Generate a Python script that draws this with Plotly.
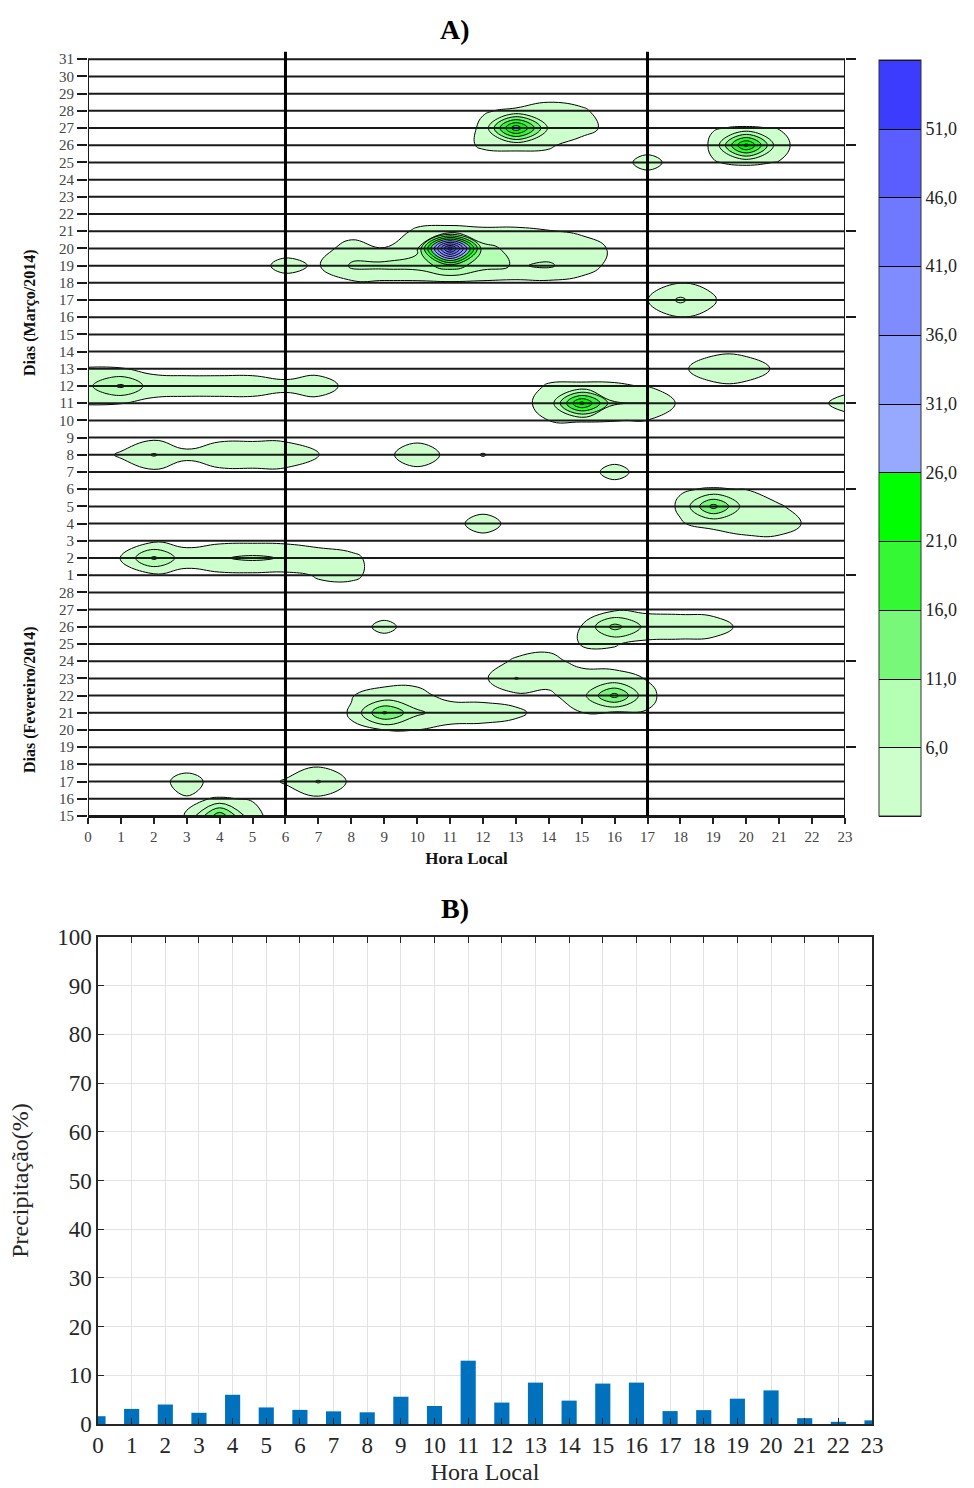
import numpy as np
import plotly.graph_objects as go

# ---------------- data ----------------
hours = list(range(24))
feb_days = list(range(15, 29))
mar_days = list(range(1, 32))
day_labels = [str(d) for d in feb_days] + [str(d) for d in mar_days]

# hourly precipitation (day, hour, value)
feb_cells = [
    (15, 3, 1.1), (15, 4, 20.0), (15, 5, 1.5),
    (16, 3, 0.8), (16, 4, 1.1), (16, 5, 0.9),
    (17, 3, 2.0), (17, 6, 1.2), (17, 7, 6.5),
    (20, 8, 0.8), (20, 9, 0.95), (20, 10, 0.95),
    (21, 8, 1.15), (21, 9, 17.0), (21, 10, 7.0), (21, 11, 3.0), (21, 12, 2.5), (21, 13, 1.5),
    (21, 15, 0.9), (21, 17, 0.9),
    (22, 8, 0.9), (22, 9, 2.0), (22, 10, 2.0), (22, 15, 4.0), (22, 16, 18.0), (22, 17, 1.4),
    (23, 13, 6.3), (23, 14, 3.0), (23, 15, 2.5), (23, 16, 2.0), (23, 17, 0.9),
    (24, 13, 1.3), (24, 14, 2.0),
    (25, 15, 1.1), (25, 16, 1.2),
    (26, 9, 1.6), (26, 15, 1.05), (26, 16, 13.0), (26, 17, 4.2), (26, 18, 3.5), (26, 19, 2.5),
]
mar_cells = [
    (1, 7, 1.3), (1, 8, 1.5),
    (2, 1, 1.1), (2, 2, 12.0), (2, 3, 2.5), (2, 4, 5.5), (2, 5, 7.0), (2, 6, 5.5), (2, 7, 2.5), (2, 8, 1.5),
    (4, 12, 2.2), (4, 18, 0.9), (4, 19, 1.5), (4, 20, 3.0), (4, 21, 3.0),
    (5, 18, 1.2), (5, 19, 18.0), (5, 20, 3.0), (5, 21, 1.2),
    (6, 18, 0.9), (6, 19, 1.1), (6, 20, 0.95),
    (7, 16, 1.8),
    (8, 1, 1.25), (8, 2, 6.5), (8, 3, 1.5), (8, 4, 4.0), (8, 5, 4.5), (8, 6, 4.0), (8, 7, 1.1),
    (8, 10, 3.2), (8, 12, 1.1),
    (10, 14, 1.0), (10, 15, 1.1), (10, 16, 1.05), (10, 17, 0.9),
    (11, 0, 1.1), (11, 1, 1.05), (11, 14, 2.0), (11, 15, 28.0), (11, 16, 6.5), (11, 17, 6.3), (11, 23, 2.0),
    (12, 0, 5.0), (12, 1, 12.0), (12, 2, 3.0), (12, 3, 2.5), (12, 4, 2.5), (12, 5, 2.5), (12, 6, 1.6),
    (12, 7, 2.5), (12, 14, 1.2), (12, 15, 1.3), (12, 16, 1.25), (12, 17, 0.9),
    (13, 0, 1.1), (13, 1, 1.1), (13, 19, 4.0), (13, 20, 3.5),
    (16, 17, 0.8), (16, 18, 0.9), (16, 19, 0.8),
    (17, 17, 0.9), (17, 18, 7.0), (17, 19, 1.1),
    (18, 17, 0.8), (18, 18, 0.9), (18, 19, 0.8),
    (19, 6, 1.8), (19, 7, 0.6), (19, 8, 7.0), (19, 9, 7.5), (19, 10, 8.0), (19, 11, 14.0), (19, 12, 8.0),
    (19, 13, 5.5), (19, 14, 6.8), (19, 15, 2.5),
    (20, 8, 2.0), (20, 9, 1.05), (20, 10, 5.0), (20, 11, 55.0), (20, 12, 8.0), (20, 13, 4.0),
    (20, 14, 3.0), (20, 15, 4.0),
    (21, 10, 1.3), (21, 11, 1.5), (21, 12, 1.3), (21, 13, 1.3), (21, 14, 1.1),
    (25, 17, 1.8), (25, 19, 0.95), (25, 20, 1.2), (25, 21, 0.95),
    (26, 12, 1.3), (26, 13, 1.5), (26, 14, 1.3), (26, 19, 1.2), (26, 20, 28.0), (26, 21, 1.5),
    (27, 12, 1.25), (27, 13, 30.0), (27, 14, 5.0), (27, 15, 2.0),
    (27, 19, 0.95), (27, 20, 1.1), (27, 21, 0.95),
    (28, 12, 0.9), (28, 13, 1.2), (28, 14, 2.0), (28, 15, 1.3),
]

level_start, level_end, level_step = 1, 56, 5
level_colors = ["#ccffcc", "#b4ffb4", "#78f878", "#35f835", "#00ff00",
                "#96a9ff", "#8a9bff", "#7e8cff", "#6f79ff", "#5a5eff", "#3c3cff"]
colorbar_ticks = [6, 11, 16, 21, 26, 31, 36, 41, 46, 51]
split_hours = [6, 17]

# panel B: share of precipitation per local hour (%)
pct_hour = [1.6, 3.1, 4.0, 2.3, 6.0, 3.4, 2.9, 2.6, 2.4, 5.6, 3.7, 13.0,
            4.4, 8.5, 4.8, 8.3, 8.5, 2.65, 2.85, 5.2, 6.9, 1.2, 0.45, 0.75]

# ---------------- build grid ----------------
n_rows = len(day_labels)
row_idx = list(range(n_rows))
z = np.zeros((n_rows, len(hours)))
for d, h, v in feb_cells:
    z[feb_days.index(d), hours.index(h)] = v
for d, h, v in mar_cells:
    z[len(feb_days) + mar_days.index(d), hours.index(h)] = v

nb = len(level_colors)
cscale = [[0.0, "#ffffff"]]
for j, c in enumerate(level_colors):
    cscale.append([max(j / nb, 0.002), c])
    cscale.append([(j + 1) / nb, c])

SERIF = "Liberation Serif"
W, H = 974, 1488
top_y_max = n_rows - 1 + 0.45

fig = go.Figure()
fig.add_trace(go.Contour(
    z=z, x=hours, y=row_idx, zmin=level_start, zmax=level_end,
    autocontour=False,
    contours=dict(start=level_start, end=level_end, size=level_step, coloring="fill", showlines=True),
    line=dict(color="black", width=1, smoothing=1.3),
    colorscale=cscale, hoverinfo="skip",
    colorbar=dict(
        x=879 / W, xanchor="left", xpad=0, ypad=0,
        y=1 - 438 / H, yanchor="middle", len=756 / H, lenmode="fraction",
        thickness=42, thicknessmode="pixels",
        outlinecolor="#333333", outlinewidth=1,
        tickvals=colorbar_ticks, ticktext=[f"{t},0" for t in colorbar_ticks],
        ticks="", tickfont=dict(family=SERIF, size=18, color="#222222"),
    ),
    xaxis="x", yaxis="y",
))

# horizontal day lines
lx, ly = [], []
for i in row_idx:
    lx += [hours[0], hours[-1], None]
    ly += [i, i, None]
fig.add_trace(go.Scatter(x=lx, y=ly, mode="lines", line=dict(color="#1a1a1a", width=2),
                         hoverinfo="skip", showlegend=False, xaxis="x", yaxis="y"))
# left / right frame
fig.add_trace(go.Scatter(x=[hours[0], hours[0], None, hours[-1], hours[-1]],
                         y=[0, n_rows - 1, None, 0, n_rows - 1], mode="lines",
                         line=dict(color="#1a1a1a", width=2), hoverinfo="skip",
                         showlegend=False, xaxis="x", yaxis="y"))
# vertical split lines
sx, sy = [], []
for h in split_hours:
    sx += [h, h, None]
    sy += [0, top_y_max, None]
fig.add_trace(go.Scatter(x=sx, y=sy, mode="lines", line=dict(color="black", width=3),
                         hoverinfo="skip", showlegend=False, xaxis="x", yaxis="y2"))

fig.add_trace(go.Bar(x=hours, y=pct_hour, width=0.45, marker=dict(color="#0072BD", line=dict(width=0)),
                     hoverinfo="skip", showlegend=False, xaxis="x2", yaxis="y3"))

top_dom = [1 - 816 / H, 1 - 51.5 / H]
fig.update_layout(
    width=W, height=H, margin=dict(l=0, r=0, t=0, b=0, autoexpand=False),
    paper_bgcolor="white", plot_bgcolor="white", showlegend=False,
    xaxis=dict(domain=[88 / W, 845 / W], anchor="y", range=[0, 23], tickvals=hours, automargin=False,
               ticks="outside", ticklen=6, tickwidth=1.5, tickcolor="#222222",
               showline=True, linecolor="#1a1a1a", linewidth=2, showgrid=False, zeroline=False,
               tickfont=dict(family=SERIF, size=15, color="#444444"),
               title=dict(text="Hora Local", standoff=8,
                          font=dict(family=SERIF, size=17, color="#111111", weight="bold"))),
    yaxis=dict(domain=top_dom, anchor="x", range=[0, top_y_max], tickvals=row_idx, ticktext=day_labels,
               automargin=False,
               ticks="outside", ticklen=10, tickwidth=2, tickcolor="#1a1a1a",
               showline=False, showgrid=False, zeroline=False,
               tickfont=dict(family=SERIF, size=15, color="#444444")),
    yaxis2=dict(overlaying="y", side="right", anchor="x", range=[0, top_y_max], automargin=False,
                tickvals=list(range(4, n_rows, 5)), ticks="outside", ticklen=10, tickwidth=2,
                tickcolor="#1a1a1a", showticklabels=False, showgrid=False, zeroline=False, showline=False),
    xaxis2=dict(domain=[98 / W, 872 / W], anchor="y3", range=[0, 23], tickvals=hours, automargin=False,
                ticks="inside", ticklen=6, tickcolor="#262626", mirror="ticks",
                showline=True, linecolor="#262626", linewidth=1.5,
                showgrid=True, gridcolor="#e3e3e3", gridwidth=1, zeroline=False,
                tickfont=dict(family=SERIF, size=23, color="#262626"),
                title=dict(text="Hora Local", standoff=6, font=dict(family=SERIF, size=24, color="#262626"))),
    yaxis3=dict(domain=[1 - 1424 / H, 1 - 937 / H], anchor="x2", range=[0, 100], dtick=10, automargin=False,
                ticks="inside", ticklen=6, tickcolor="#262626", mirror="ticks",
                showline=True, linecolor="#262626", linewidth=1.5,
                showgrid=True, gridcolor="#e3e3e3", gridwidth=1, zeroline=False,
                tickfont=dict(family=SERIF, size=23, color="#262626"),
                title=dict(text="Precipitação(%)", standoff=22, font=dict(family=SERIF, size=24, color="#262626"))),
    annotations=[
        dict(text="A)", x=455 / W, y=1 - 29 / H, xref="paper", yref="paper", showarrow=False,
             xanchor="center", yanchor="middle",
             font=dict(family=SERIF, size=28, color="black", weight="bold")),
        dict(text="B)", x=455 / W, y=1 - 908 / H, xref="paper", yref="paper", showarrow=False,
             xanchor="center", yanchor="middle",
             font=dict(family=SERIF, size=28, color="black", weight="bold")),
        dict(text="Dias (Março/2014)", x=30 / W, y=1 - 313 / H, xref="paper", yref="paper",
             showarrow=False, textangle=-90, xanchor="center", yanchor="middle",
             font=dict(family=SERIF, size=16, color="#111111", weight="bold")),
        dict(text="Dias (Fevereiro/2014)", x=30 / W, y=1 - 700 / H, xref="paper", yref="paper",
             showarrow=False, textangle=-90, xanchor="center", yanchor="middle",
             font=dict(family=SERIF, size=16, color="#111111", weight="bold")),
    ],
)

fig.write_html("out.html")
